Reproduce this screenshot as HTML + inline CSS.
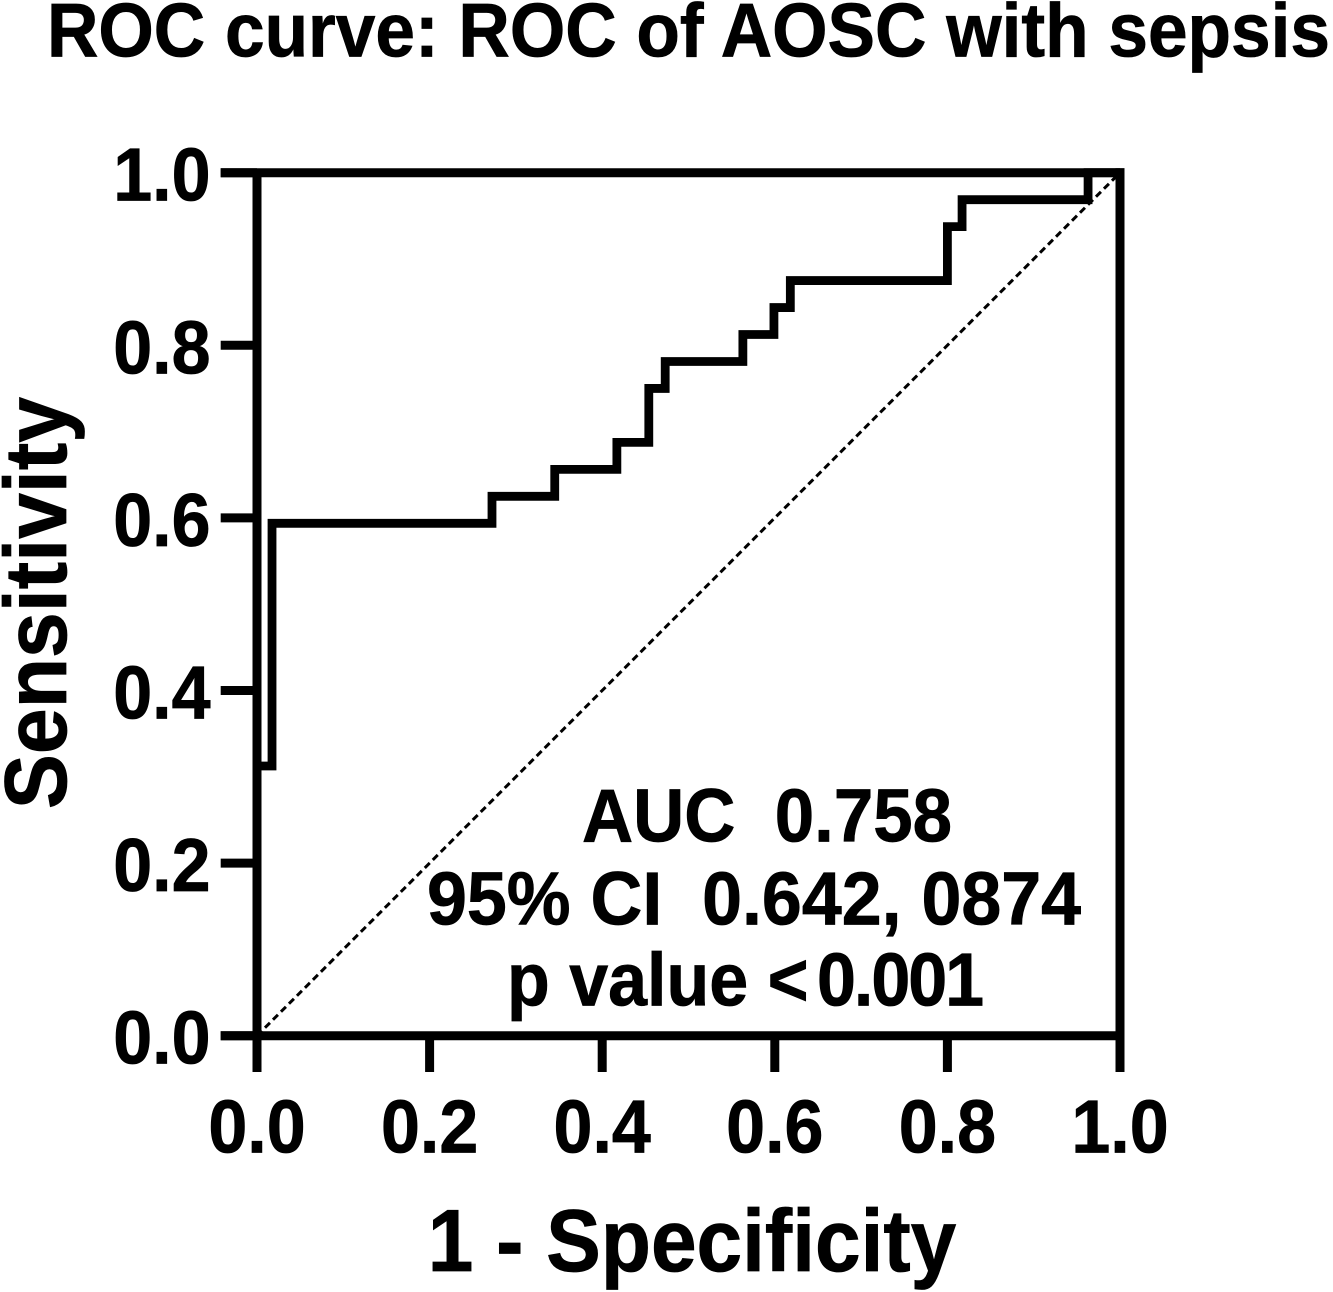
<!DOCTYPE html>
<html lang="en">
<head>
<meta charset="utf-8">
<title>ROC curve: ROC of AOSC with sepsis</title>
<style>
html,body{margin:0;padding:0;background:#fff;}
svg{display:block;}
text{font-family:"Liberation Sans",Arial,sans-serif;font-weight:700;fill:#000;stroke:#000;stroke-width:.7;white-space:pre;}
</style>
</head>
<body>
<svg id="chart" xmlns="http://www.w3.org/2000/svg" width="1333" height="1292" viewBox="0 0 1333 1292">
  <rect x="0" y="0" width="1333" height="1292" fill="#ffffff"/>
  <text transform="translate(688.5 56.5) scale(1.003 1.07)" font-size="71" text-anchor="middle">ROC curve: ROC of AOSC with sepsis</text>
  <text transform="translate(66 603) rotate(-90) scale(1.005 1.07)" font-size="82" text-anchor="middle">Sensitivity</text>
  <text transform="translate(692 1271) scale(1 1.07)" font-size="82" text-anchor="middle">1 - Specificity</text>
  <g id="plot"></g>
  <text transform="translate(582 841.5) scale(1.012 1.07)" font-size="70" xml:space="preserve">AUC  0.758</text>
  <text transform="translate(427 924.5) scale(1.025 1.07)" font-size="70" xml:space="preserve">95% CI  0.642, 0874</text>
  <text transform="translate(507 1005.5) scale(1 1.07)" font-size="70" xml:space="preserve">p value &lt;<tspan dx="-9" letter-spacing="-2"> 0.001</tspan></text>
</svg>
<script>
const xTickLabels = ['0.0', '0.2', '0.4', '0.6', '0.8', '1.0'];
const yTickLabels = ['0.0', '0.2', '0.4', '0.6', '0.8', '1.0'];
const rocFpr = [0, 0, 0.0174, 0.0174, 0.2723, 0.2723, 0.345, 0.345, 0.417, 0.417, 0.454, 0.454, 0.473, 0.473, 0.563, 0.563, 0.599, 0.599, 0.618, 0.618, 0.80, 0.80, 0.817, 0.817, 0.963, 0.963, 1];
const rocTpr = [0, 0.3125, 0.3125, 0.59375, 0.59375, 0.625, 0.625, 0.65625, 0.65625, 0.6875, 0.6875, 0.75, 0.75, 0.78125, 0.78125, 0.8125, 0.8125, 0.84375, 0.84375, 0.875, 0.875, 0.9375, 0.9375, 0.96875, 0.96875, 1, 1];
const referenceLine = [0, 1];

const NS = 'http://www.w3.org/2000/svg';
const plot = document.getElementById('plot');
const left = 257, right = 1120, top_ = 172.7, bottom = 1035.7;
const axisWidth = 9;
function xScale(v) { return left + (right - left) * v; }
function yScale(v) { return bottom - (bottom - top_) * v; }

function strokeLine(x1, y1, x2, y2, width) {
  const el = document.createElementNS(NS, 'line');
  el.setAttribute('x1', x1);
  el.setAttribute('y1', y1);
  el.setAttribute('x2', x2);
  el.setAttribute('y2', y2);
  el.setAttribute('stroke', '#000');
  el.setAttribute('stroke-width', width);
  plot.appendChild(el);
  return el;
}

const diagonal = strokeLine(xScale(referenceLine[0]), yScale(referenceLine[0]), xScale(referenceLine[1]), yScale(referenceLine[1]), 3);
diagonal.setAttribute('stroke-dasharray', '7 4.3');



const curve = document.createElementNS(NS, 'polyline');
curve.setAttribute('points', rocFpr.map(function (f, i) { return xScale(f) + ',' + yScale(rocTpr[i]); }).join(' '));
curve.setAttribute('fill', 'none');
curve.setAttribute('stroke', '#000');
curve.setAttribute('stroke-width', 8.8);
curve.setAttribute('stroke-linejoin', 'miter');


plot.appendChild(curve);

const yAxisLine = strokeLine(left, top_ - 4, left, 1072, axisWidth);



const xAxisLine = strokeLine(220.7, bottom, right + 4.5, bottom, axisWidth);



const topBorder = strokeLine(220.7, top_, right + 4.5, top_, axisWidth);



const rightBorder = strokeLine(right, top_ - 4.5, right, 1072, axisWidth);



xTickLabels.forEach(function (label) {
  const v = parseFloat(label);
  const tick = strokeLine(xScale(v), bottom, xScale(v), 1072, axisWidth);
  
  
  const t = document.createElementNS(NS, 'text');
  t.setAttribute('transform', 'translate(' + xScale(v) + ' 1152.5) scale(1 1.08)');
  t.setAttribute('font-size', 70);
  t.setAttribute('text-anchor', 'middle');
  
  
  t.textContent = label;
  plot.appendChild(t);
});

yTickLabels.forEach(function (label) {
  const v = parseFloat(label);
  const tick = strokeLine(220.7, yScale(v), left, yScale(v), axisWidth);
  
  
  const t = document.createElementNS(NS, 'text');
  t.setAttribute('transform', 'translate(210.5 ' + (yScale(v) + 28) + ') scale(1 1.08)');
  t.setAttribute('font-size', 70);
  t.setAttribute('text-anchor', 'end');
  
  
  t.textContent = label;
  plot.appendChild(t);
});
</script>
</body>
</html>
